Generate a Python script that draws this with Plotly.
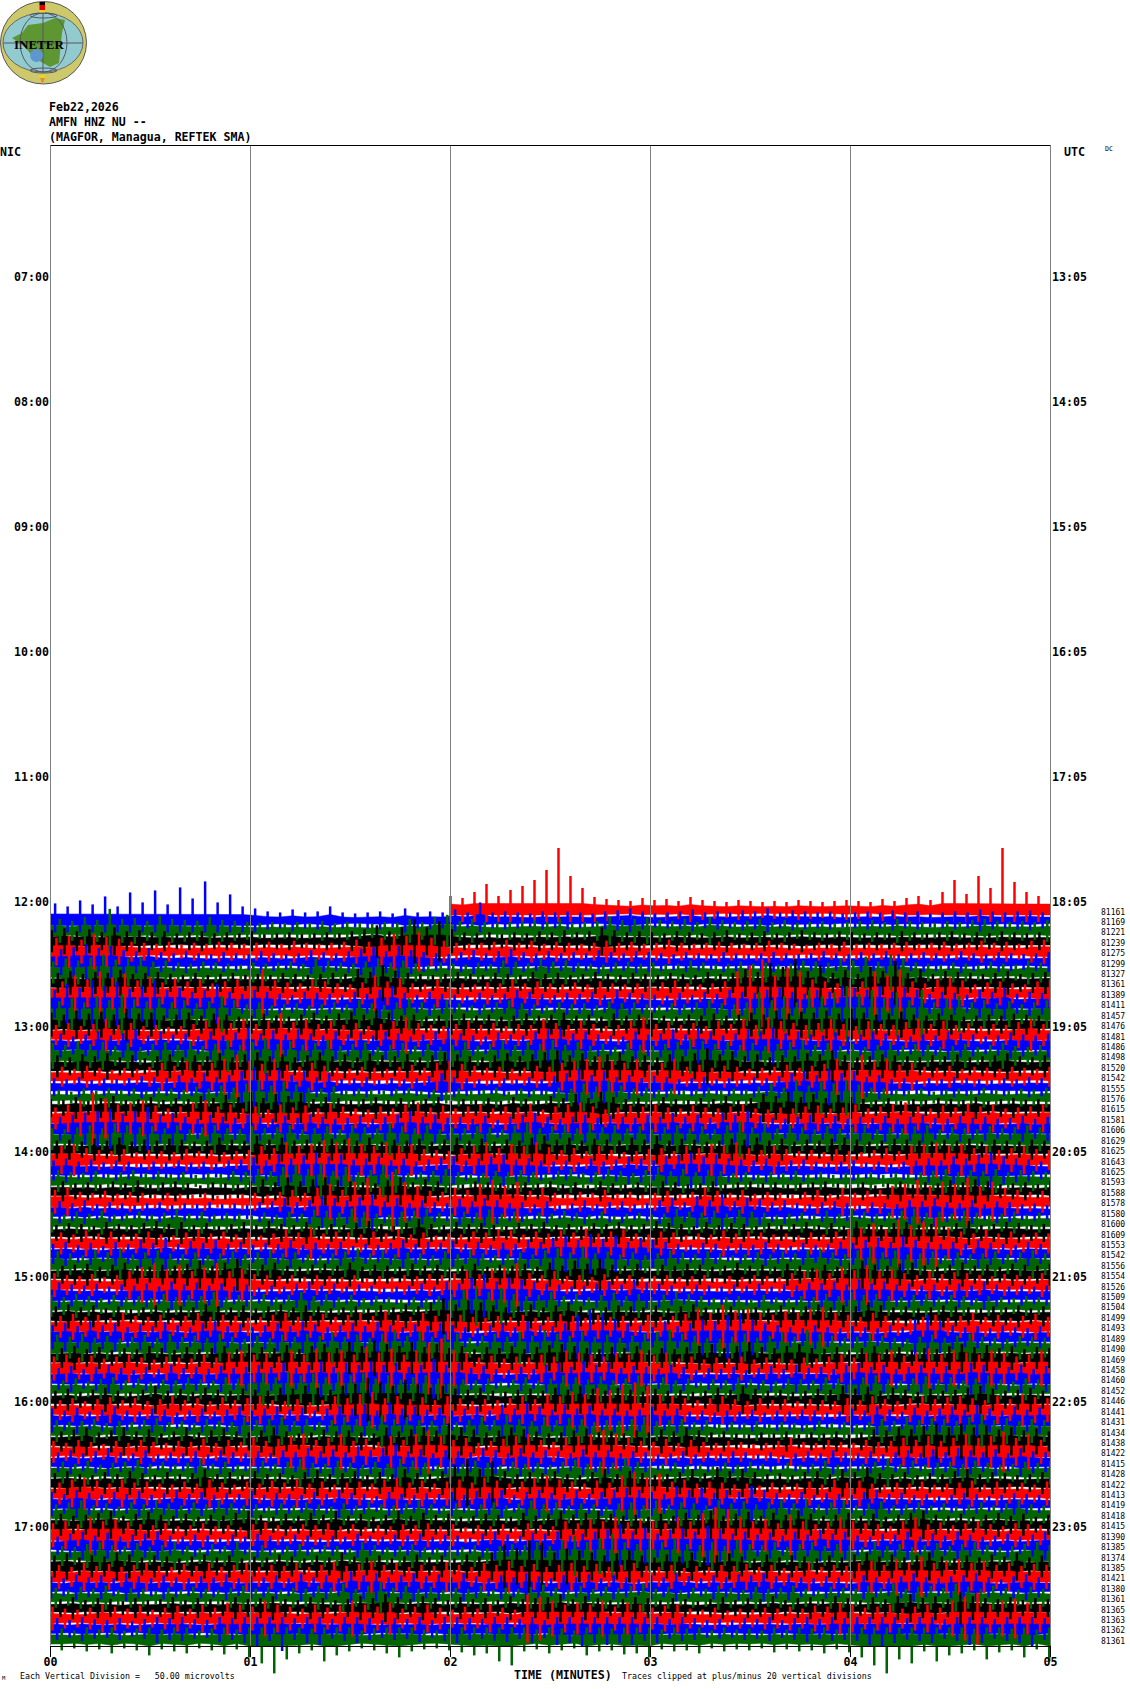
import plotly.graph_objects as go

# half-height of each trace's swing (about 1 unit = 1 px on the record)
r00=[14,12,18,26,14,20,24,30,40,62,34,22,13,11,10,9,12,10,11,9,13,10,9,8,10,9,8,9,8,10,9,8,9,10,9,8,11,9,12,14,10,18,30,16,34,22,62,28,18,14]
r01=[17,14,20,16,24,14,28,18,30,16,33,22,39,18,26,14,12,9,8,11,8,9,14,8,7,8,9,7,12,8,9,8,11,8,18,8,9,8,7,9,8,9,8,7,9,10,12,9,7,8,9,11,8,9,8,10,9,12,8,10,9,8,9,7,8,9,8,10,8,9,7,8,9,8,11,9,8,9,10,8]
r02=[12,10,14,11,22,12,13,10,15,12,11,10,14,11,10,9,8,9,8,9,8,10,8,9,8,7,9,8,12,9,14,16,10,12,9,8,9,10,11,9,12,8,9,10,14,11,12,13,11,10,12,9,14,11,9,10,12,9,11,8,9,10,8,9,10,11,9,12,10,9,8,10,9,11,12,10,9,10,9,11]
r03=[11,13,10,12,9,14,10,11,9,10,8,9,10,8,9,8,10,7,8,9,7,8,9,8,10,12,16,10,14,22,14,20,12,9,8,9,7,9,8,10,9,11,9,10,14,11,9,10,9,8,10,9,8,9,11,8,9,10,8,9,11,9,8,10,9,8,9,8,10,9,8,9,10,8,9,8,10,9,8,9]
r04=[14,16,12,18,15,13,10,9,8,10,7,9,8,10,9,8,9,10,8,11,9,8,9,10,12,10,14,18,16,20,14,11,9,8,9,10,12,9,11,8,10,9,8,9,11,9,10,8,9,12,9,8,9,10,9,8,9,11,9,8,7,9,8,10,8,9,8,9,10,8,9,10,8,9,11,9,10,8,11,12]
r05=[13,15,18,14,16,12,11,14,10,9,11,9,8,10,9,8,11,9,8,9,12,10,9,11,13,15,11,16,12,10,9,8,10,12,9,11,13,10,9,11,9,10,9,12,10,9,11,10,9,8,10,9,8,10,9,8,9,10,9,8,9,11,9,8,10,9,11,8,9,10,9,8,11,9,8,10,9,8,9,10]
r06=[11,14,12,15,18,13,14,16,11,12,10,9,11,10,9,8,10,9,10,11,9,14,12,10,9,11,14,10,12,9,8,10,9,8,10,9,12,11,9,14,11,12,10,9,8,10,11,9,10,8,9,12,10,8,9,11,9,10,8,9,12,11,10,14,12,16,11,18,14,10,9,8,10,9,8,11,9,8,12,10]
r07=[10,12,9,11,10,13,9,10,11,9,8,10,8,9,10,8,9,8,10,9,8,9,10,9,14,11,18,12,10,9,8,9,11,9,8,10,9,8,11,9,10,8,9,11,9,8,10,9,8,10,9,8,11,9,10,14,11,20,16,24,12,18,10,13,9,16,12,22,10,14,9,12,11,10,9,10,12,9,10,11]
r08=[12,18,14,22,16,20,13,16,11,15,12,14,10,12,14,18,24,13,11,10,14,12,10,9,11,18,12,15,10,9,14,11,10,9,11,10,14,10,12,10,9,11,9,12,10,9,10,14,11,13,10,9,10,12,22,28,34,18,26,22,14,12,10,14,12,22,18,24,12,10,14,16,13,9,11,12,10,9,12,14]
r09=[14,20,16,24,18,22,15,18,24,14,16,12,14,20,12,10,14,12,10,9,12,11,10,9,12,10,14,18,11,9,12,10,9,8,11,9,10,14,12,10,9,11,10,12,9,14,11,10,9,8,11,9,12,10,14,12,11,14,16,12,10,14,12,18,16,14,18,12,16,14,10,12,11,9,14,12,16,10,12,11]
r10=[13,16,12,18,14,20,15,13,16,12,14,11,13,18,14,10,12,9,10,11,9,10,12,10,14,11,9,12,16,12,10,14,11,9,10,12,14,11,10,9,12,10,11,9,13,11,12,10,9,11,10,12,14,11,10,12,22,14,18,12,24,18,22,28,20,24,16,22,14,24,12,16,18,12,14,11,13,10,12,14]
r11=[12,10,14,11,13,10,16,11,12,9,10,12,9,11,10,8,9,11,9,8,10,12,9,11,13,10,16,12,9,10,8,9,10,11,9,10,8,9,11,9,10,12,9,10,8,11,9,10,12,9,8,10,9,11,9,10,12,10,14,11,13,12,14,11,16,12,10,11,13,10,9,11,10,8,9,10,9,11,10,9]
r12=[10,12,9,11,16,10,12,9,10,8,9,11,14,18,12,16,11,14,22,13,16,11,14,10,12,9,11,14,18,12,10,9,11,14,10,12,9,11,10,16,12,10,14,11,9,10,14,18,11,13,10,12,9,14,11,16,10,18,14,12,10,12,16,11,9,14,11,10,13,16,11,14,10,12,9,11,10,13,16,11]
r13=[12,9,11,14,10,12,16,10,14,11,12,9,14,10,13,18,12,15,11,16,12,10,14,11,13,10,14,12,9,11,14,18,12,10,9,13,11,10,14,16,18,12,14,11,10,9,14,11,12,16,11,18,14,10,12,16,14,18,12,14,11,10,13,9,11,14,12,10,9,11,10,14,12,11,9,10,13,11,10,12]
r14=[13,11,15,12,14,10,13,9,12,14,11,15,10,12,16,11,14,18,12,15,11,13,16,10,12,14,9,11,13,10,12,9,11,14,10,12,15,11,14,12,16,11,14,10,12,9,13,11,10,12,14,18,15,12,14,11,13,10,12,14,16,11,13,10,12,9,11,14,10,12,11,9,10,12,9,11,13,10,9,11]
r15=[11,9,12,10,13,9,11,8,10,12,9,11,10,13,9,12,14,10,12,9,11,14,10,12,9,13,11,10,12,9,11,14,12,10,9,11,13,10,12,14,16,11,13,10,12,14,10,11,9,12,10,13,18,12,15,10,12,9,11,10,13,12,16,11,9,10,12,11,10,9,11,10,12,9,10,11,13,10,9,11]
r16=[10,8,11,9,7,9,8,10,14,11,16,12,14,18,22,16,13,18,12,10,14,11,9,8,10,9,8,10,12,9,14,16,13,11,9,10,8,9,11,10,14,16,18,20,16,14,18,12,14,18,10,12,9,11,10,8,9,10,12,9,11,13,18,14,22,16,18,12,14,10,9,11,8,10,9,8,10,9,8,10]
r17=[9,8,10,7,9,8,9,11,10,9,12,9,14,10,12,16,20,14,18,12,16,10,14,8,9,10,7,9,8,9,11,14,10,9,8,7,9,8,10,8,11,14,18,12,16,10,12,9,11,10,8,9,10,8,9,8,10,9,11,14,16,12,18,14,16,10,12,8,9,7,9,8,10,9,8,7,9,8,10,9]
r18=[8,6,9,7,10,8,9,7,10,9,8,11,9,12,10,14,18,12,16,13,10,9,11,7,9,8,7,9,10,7,8,6,9,7,8,10,6,9,8,7,10,9,14,11,18,12,9,10,8,9,7,8,10,7,9,8,11,14,10,18,12,16,14,18,13,10,9,8,7,9,6,8,9,7,10,8,7,9,8,10]
r19=[9,8,11,7,10,12,8,9,11,8,10,9,12,10,13,11,16,10,14,12,15,9,11,10,8,9,11,8,10,8,9,11,7,9,8,10,7,11,9,8,12,10,14,10,16,11,9,10,8,11,9,8,10,9,12,8,10,14,12,16,11,14,10,13,11,9,8,10,7,9,8,10,9,8,11,7,9,10,8,9]
r20=[11,14,18,26,20,14,16,18,13,10,12,16,18,12,14,10,12,9,14,11,13,10,15,12,10,9,12,10,14,16,11,13,10,12,14,10,12,11,15,9,12,14,16,12,9,11,13,12,14,11,10,13,11,10,12,14,10,9,11,10,12,13,10,11,14,10,12,14,16,12,10,13,11,15,12,14,10,11,12,14]
r21=[12,14,16,18,20,15,18,22,14,16,12,10,14,12,11,14,12,10,13,11,14,12,10,11,13,10,12,14,18,12,14,11,12,10,13,9,12,14,16,12,10,12,14,11,13,12,11,14,12,16,12,14,11,16,14,18,13,11,10,12,14,11,13,10,12,11,13,10,12,14,11,10,13,11,12,10,11,13,10,12]
r22=[11,10,12,14,11,16,14,12,13,11,14,10,12,14,11,10,13,11,12,14,10,11,13,10,14,12,11,16,13,11,14,10,12,11,13,12,10,14,16,11,13,14,11,16,12,14,11,13,10,12,14,11,13,10,14,18,12,16,11,14,12,10,13,11,12,14,10,12,11,13,14,10,12,11,10,13,11,12,14,12]
r23=[9,10,8,11,9,12,8,10,9,11,10,8,9,12,10,9,14,10,12,9,10,8,11,10,9,12,8,10,9,11,8,10,12,9,11,8,10,9,12,14,10,12,9,11,10,9,12,10,14,9,11,10,8,9,11,10,12,9,11,8,10,9,11,12,10,8,9,11,10,9,8,10,9,11,8,10,9,8,10,9]
r24=[14,16,12,10,9,11,8,10,9,8,11,9,10,8,9,10,14,12,18,14,16,20,18,22,16,14,18,14,16,11,10,9,12,14,18,12,16,14,18,13,10,12,9,14,10,8,9,11,12,9,14,12,16,14,18,12,10,14,11,9,10,8,11,9,8,10,12,9,14,16,18,14,16,12,14,10,12,14,11,10]
r25=[10,12,9,11,8,10,9,7,9,8,10,8,9,7,10,11,13,10,16,12,15,18,14,16,11,12,14,10,12,9,11,13,14,10,12,14,16,11,12,10,9,10,8,12,9,11,14,12,10,14,16,18,14,16,12,11,10,12,9,10,11,9,8,9,10,8,9,7,9,10,12,10,14,12,16,18,14,12,11,9]
r26=[11,9,8,10,7,9,11,8,10,7,9,6,8,7,10,9,12,10,14,16,12,18,10,14,9,11,16,12,8,9,10,12,9,7,8,10,9,11,9,7,10,12,8,9,12,10,8,11,14,10,12,9,11,10,8,9,7,9,8,10,7,9,6,8,7,9,6,8,7,9,10,12,9,11,10,12,9,11,10,9]
r27=[10,8,9,7,10,8,11,7,9,10,8,6,9,8,7,10,12,9,14,10,12,14,11,10,9,8,11,14,9,12,10,8,7,10,9,8,7,9,8,10,7,9,6,10,8,7,9,8,10,9,7,8,10,7,9,10,8,9,7,8,9,10,8,7,9,6,8,10,7,9,8,11,9,12,10,7,8,9,7,10]
r28=[12,14,10,9,11,8,10,9,7,9,8,7,9,6,7,8,9,7,10,12,9,14,18,12,20,24,14,30,20,16,11,10,14,12,18,22,16,20,11,14,9,8,10,9,12,8,10,7,9,11,8,10,14,11,9,12,8,10,9,7,10,12,8,14,9,11,12,16,18,22,16,20,18,24,16,20,14,12,10,11]
r29=[11,9,12,8,10,9,7,9,10,7,9,8,10,8,9,7,10,11,14,10,12,16,14,12,15,18,11,14,9,12,10,9,13,11,14,12,9,10,8,11,7,9,12,8,10,11,8,9,12,14,10,16,12,18,11,14,13,10,12,9,8,10,11,9,7,10,9,8,12,11,14,10,9,12,8,11,10,8,9,7]
r30=[10,8,11,9,12,8,9,11,8,10,14,9,11,8,10,9,7,10,8,11,9,13,12,10,14,11,9,8,11,12,14,10,9,11,10,13,9,11,8,10,9,12,10,8,11,7,9,10,8,9,14,11,10,12,9,13,11,10,8,9,10,8,12,9,14,11,9,10,12,14,10,11,9,12,10,8,9,11,8,10]
r31=[8,10,9,7,11,9,8,10,12,9,11,8,10,7,9,11,8,12,9,8,11,7,9,8,10,12,9,7,10,14,9,8,11,9,10,8,7,10,9,11,8,9,7,10,9,11,8,9,12,10,9,7,11,8,10,9,7,10,8,9,11,8,10,7,12,9,8,10,11,8,9,7,10,12,8,9,11,10,8,9]
r32=[11,9,13,10,12,9,10,12,9,8,11,14,10,12,9,11,8,10,14,11,16,10,12,11,9,12,10,14,9,11,8,10,9,12,11,14,13,9,12,10,13,11,15,10,12,14,10,9,12,11,8,10,9,13,10,12,11,9,10,8,11,9,12,14,16,20,14,24,18,22,26,16,12,10,14,10,12,9,11,10]
r33=[10,12,9,11,8,12,10,14,11,16,10,13,11,14,10,12,9,11,10,14,9,11,10,12,8,10,9,11,14,10,12,11,13,10,12,9,11,10,14,12,16,18,14,20,15,18,12,16,14,12,10,9,11,10,8,10,9,12,10,8,11,9,10,12,11,14,16,12,18,14,11,10,12,10,14,11,10,9,12,10]
r34=[13,11,9,14,12,16,10,12,14,11,10,12,9,11,13,10,12,14,11,12,10,9,11,13,16,11,14,10,12,11,9,13,10,14,11,9,10,12,10,14,16,12,18,11,13,10,12,9,11,14,12,10,13,11,9,10,12,10,13,11,14,16,12,10,14,18,12,14,10,11,13,9,12,10,11,13,10,12,14,11]
r35=[9,10,11,8,10,12,9,8,10,9,11,14,9,12,16,11,10,12,9,8,10,11,9,12,8,10,9,8,11,9,10,7,9,11,8,10,9,11,8,12,9,14,11,16,10,9,11,8,10,9,11,10,8,9,12,9,10,8,11,9,7,10,8,12,14,10,9,11,12,9,8,10,12,9,10,8,11,10,9,11]
r36=[12,10,9,11,8,10,14,18,22,16,20,14,18,22,14,16,11,10,9,10,8,10,9,8,10,7,9,8,10,9,11,10,12,14,11,16,18,22,12,10,14,9,10,8,11,9,10,8,9,10,8,9,10,7,9,8,10,9,8,12,14,16,12,18,15,20,14,16,12,10,14,11,13,12,10,9,11,10,9,12]
r37=[13,11,10,12,9,11,10,12,9,14,11,13,10,12,9,11,8,10,9,12,14,10,12,9,11,10,8,9,10,12,9,14,12,18,22,14,18,16,14,12,11,9,10,12,14,11,16,13,12,10,9,11,10,9,11,10,12,9,11,10,13,12,14,11,16,12,14,11,12,10,11,9,12,10,14,11,9,10,9,10]
r38=[11,9,12,10,8,11,9,10,8,12,9,11,10,14,9,11,10,12,9,11,14,10,12,9,11,8,10,9,7,9,8,10,12,16,20,14,18,12,10,11,14,10,12,9,11,13,10,12,9,11,14,12,10,8,9,10,7,11,9,8,10,9,12,10,14,11,12,10,9,11,12,9,11,10,8,10,9,8,10,9]
r39=[10,12,9,11,8,10,7,9,11,8,10,9,12,10,9,11,8,10,12,9,11,10,8,9,10,8,11,9,12,10,14,18,12,16,14,11,9,10,12,9,11,14,10,8,9,11,10,9,11,8,10,12,9,8,10,7,9,8,11,9,10,12,9,11,10,14,11,9,10,8,9,11,10,9,8,10,9,11,8,10]
r40=[11,13,10,12,9,14,11,10,12,9,11,14,10,12,11,9,10,12,14,10,11,13,10,12,14,11,16,12,10,14,11,13,12,10,9,11,10,12,9,10,13,11,9,12,10,11,9,12,10,11,13,18,14,22,16,18,14,12,16,14,18,20,14,12,10,14,11,9,8,10,12,9,11,14,10,12,9,11,13,10]
r41=[12,14,11,16,12,14,10,13,11,15,12,10,14,16,11,13,10,12,14,11,16,13,10,12,14,11,15,12,10,13,11,14,12,10,9,12,14,10,16,12,11,14,22,28,24,18,14,12,10,16,11,14,18,16,22,24,18,14,12,10,9,12,10,9,11,10,9,12,10,18,22,16,12,10,11,9,12,10,9,11]
r42=[13,11,14,10,12,9,11,13,10,14,11,12,10,14,11,9,12,10,13,11,14,12,16,11,13,10,14,18,12,16,11,13,14,10,12,14,11,16,12,18,14,12,16,11,13,10,12,14,16,18,14,12,10,9,11,14,10,12,16,11,18,14,12,10,11,14,12,10,9,11,13,10,12,14,11,10,9,12,11,10]
r43=[10,12,9,11,8,10,9,12,10,8,11,9,10,12,9,14,11,10,13,9,12,14,10,16,12,18,14,12,16,11,14,10,12,9,11,10,12,9,11,13,14,12,10,9,11,10,12,8,10,9,11,12,14,10,12,16,11,10,12,14,10,9,11,8,10,12,9,11,8,10,9,12,14,11,13,10,12,9,11,10]
r44=[12,14,11,13,10,12,14,11,9,12,11,10,14,11,16,18,14,16,12,18,14,20,16,18,14,22,16,20,14,18,26,30,18,16,11,13,10,12,11,14,12,18,16,14,12,16,14,18,13,16,10,12,9,11,10,12,9,11,10,9,11,10,12,14,11,16,14,18,13,16,20,14,18,16,14,18,16,12,14,18]
r45=[11,13,10,12,14,11,9,12,10,14,11,12,10,13,11,12,14,12,16,11,14,18,12,16,14,18,14,16,12,14,20,14,16,11,13,10,9,12,10,14,16,12,18,14,16,11,13,12,10,14,12,9,11,10,12,9,11,13,10,14,11,12,10,14,16,12,14,10,12,14,11,13,10,16,14,11,12,14,10,13]
r46=[10,9,11,8,10,12,9,11,8,10,9,12,10,9,12,11,14,16,12,18,14,16,12,18,14,16,11,14,10,12,14,11,13,10,9,11,8,10,12,9,11,14,12,10,13,9,11,14,10,12,9,11,8,10,9,12,10,9,8,11,10,9,12,11,10,12,14,10,9,11,13,10,12,9,11,14,10,8,11,10]
r47=[9,11,8,10,12,9,8,10,14,9,11,8,12,10,9,11,10,9,12,11,14,12,10,14,16,22,18,14,20,16,12,14,11,10,12,9,8,10,11,9,12,10,14,11,9,12,10,8,11,9,10,8,9,12,10,14,11,9,10,8,9,11,10,14,11,13,9,12,10,8,11,9,10,12,14,11,9,10,12,9]
r48=[10,12,9,11,13,10,12,9,11,14,10,12,9,13,10,12,14,10,9,11,8,10,14,12,16,18,12,14,11,13,10,14,12,9,11,10,12,14,11,16,14,18,16,22,20,26,28,24,16,14,12,10,12,14,11,9,12,10,11,9,11,10,9,12,10,14,11,9,12,14,11,13,14,12,10,14,11,16,13,12]
r49=[12,10,13,9,11,14,10,9,12,11,8,10,12,9,11,14,10,12,14,11,13,10,12,14,12,16,10,18,12,14,11,13,10,12,14,10,16,12,18,14,11,16,12,15,11,12,10,11,14,10,12,9,10,8,10,9,11,8,10,9,11,10,8,9,12,10,14,11,9,13,10,12,14,11,16,12,10,14,11,13]
r50=[11,9,10,12,8,10,9,11,13,9,10,8,12,10,9,14,11,12,14,10,12,9,11,14,12,10,16,12,14,11,10,13,9,11,14,11,16,12,10,14,11,13,12,9,11,10,12,14,10,11,12,9,11,7,9,8,10,7,9,8,7,10,8,9,7,9,12,10,14,11,13,12,10,14,16,11,13,10,12,11]
r51=[10,12,14,9,11,14,10,12,8,10,14,9,11,13,10,9,11,14,10,8,9,12,10,11,9,8,14,10,12,14,11,18,14,12,9,11,14,12,10,8,9,11,13,9,10,8,11,9,12,10,14,11,9,10,8,7,9,8,10,7,9,8,10,7,9,12,11,14,12,16,18,14,18,14,16,12,14,11,13,10]
r52=[11,9,12,10,8,11,9,12,10,9,11,10,13,9,12,10,14,11,13,16,18,12,14,18,11,13,10,16,12,18,22,16,12,14,9,11,13,16,18,12,10,14,16,18,22,18,14,11,10,13,9,12,10,9,11,10,8,9,11,14,10,9,12,10,9,12,10,11,14,12,16,11,14,18,14,16,20,14,18,12]
r53=[10,12,9,11,14,10,9,12,8,10,9,11,8,12,10,9,11,9,12,10,14,11,13,10,16,12,14,18,11,13,9,12,11,10,14,12,9,14,10,12,11,9,13,10,12,9,11,10,8,9,11,8,10,9,11,10,8,10,7,9,11,9,12,10,9,11,8,10,12,9,13,10,14,12,10,13,9,14,11,10]
r54=[11,9,12,8,10,11,13,9,11,8,10,14,9,11,8,10,12,9,11,14,10,9,12,10,8,11,9,14,12,10,8,11,9,12,10,8,11,9,10,8,11,13,9,11,10,14,11,12,9,10,8,9,7,10,8,11,9,7,10,8,9,12,8,10,9,11,14,9,12,8,10,11,9,12,10,8,9,11,10,12]
r55=[10,12,9,8,11,9,12,10,8,11,9,10,14,9,11,8,12,9,10,8,11,13,9,10,12,8,11,9,14,10,9,12,18,24,14,22,12,9,11,10,12,9,8,11,14,9,12,10,8,9,11,14,10,16,12,14,11,9,10,8,11,12,9,14,11,16,10,9,11,8,10,9,12,14,9,11,10,8,9,11]
r56=[11,14,16,13,10,14,11,12,10,9,12,10,14,11,9,12,10,13,11,14,10,12,9,11,12,10,14,16,11,13,10,12,14,11,16,13,10,12,16,18,14,12,10,13,11,18,22,16,20,12,14,10,12,11,9,10,8,11,9,10,12,9,14,11,13,10,9,11,10,12,9,10,11,13,9,12,10,11,9,12]
r57=[12,10,14,11,9,12,10,13,9,11,14,10,12,9,11,10,13,9,11,10,9,12,10,14,11,10,8,12,10,9,11,10,12,9,13,11,14,9,12,14,11,10,14,10,12,14,16,14,12,10,18,14,16,11,14,12,18,14,11,10,12,9,11,10,9,12,14,10,11,9,10,8,9,11,10,8,9,11,10,9]
r58=[10,12,14,9,11,8,12,10,14,11,9,12,10,14,11,9,10,8,11,9,12,10,8,11,9,13,10,9,11,14,10,8,11,9,10,12,9,11,14,10,12,9,11,10,8,11,12,9,14,10,12,11,9,14,11,13,10,12,14,11,16,10,12,14,9,11,13,9,10,12,9,11,8,10,12,9,11,14,10,9]
r59=[11,9,10,12,14,9,11,13,10,9,11,8,10,9,12,14,10,8,11,9,12,10,14,9,11,8,10,14,9,12,10,11,8,9,11,10,8,12,9,11,14,10,12,14,11,9,10,8,11,9,12,10,14,9,11,13,9,12,10,14,11,9,10,12,9,11,8,10,12,14,10,9,11,8,10,12,9,11,8,10]
r60=[12,14,11,18,14,16,13,11,10,12,9,10,12,9,10,8,11,13,10,9,11,10,12,9,11,8,10,9,11,10,12,9,11,8,10,9,11,8,12,10,9,14,12,16,14,18,13,16,14,12,18,14,22,28,26,18,14,16,12,20,14,11,13,18,14,12,11,9,14,18,11,13,10,12,14,11,9,12,11,10]
r61=[9,12,14,10,13,9,11,12,14,10,9,11,10,8,11,9,12,10,9,11,10,8,10,9,12,10,9,11,10,12,9,11,10,8,12,14,11,10,13,12,14,10,12,14,16,22,14,18,12,16,18,14,20,16,12,14,11,13,10,14,11,16,12,14,10,9,12,11,14,9,12,10,14,11,9,10,12,9,11,14]
r62=[10,9,12,14,11,10,13,9,11,14,10,8,12,10,14,9,11,8,10,12,9,11,10,8,14,11,9,10,12,9,8,10,9,11,8,10,12,11,14,10,16,20,14,18,22,14,12,16,14,18,12,11,14,10,16,12,11,14,9,12,14,10,12,11,9,14,10,12,9,11,13,10,12,14,11,9,10,12,14,11]
r63=[11,13,9,11,10,14,12,9,11,10,8,10,12,9,11,8,10,9,12,10,8,11,9,14,10,9,11,8,10,12,9,11,8,12,10,14,22,18,26,24,14,18,16,14,11,13,16,11,9,12,10,14,9,11,13,10,8,12,9,11,10,8,11,9,12,14,10,12,9,11,14,10,8,11,9,12,10,14,9,11]
r64=[12,10,14,11,13,10,12,14,11,10,13,11,14,10,12,14,10,12,11,14,10,12,15,11,13,16,12,14,10,12,11,15,12,10,14,12,16,11,13,10,12,14,11,13,10,12,14,11,10,12,9,11,10,12,11,13,10,12,9,11,14,10,12,11,14,16,12,18,14,20,14,16,18,14,16,12,14,11,13,12]
r65=[11,9,13,10,12,9,14,11,9,12,10,9,11,10,13,9,11,10,12,9,14,10,12,9,16,12,14,10,12,14,11,13,10,14,11,9,12,10,14,11,9,12,10,13,9,12,10,8,12,10,14,11,9,12,10,13,12,14,11,13,10,9,11,10,8,12,10,9,11,14,10,9,11,12,14,10,8,11,13,10]
r66=[10,8,11,9,12,8,10,9,7,10,8,11,9,8,10,12,9,11,8,10,9,12,10,14,9,12,16,10,12,9,11,8,10,9,12,8,10,9,11,13,10,8,12,9,11,10,12,14,9,11,8,10,9,12,10,8,11,9,10,12,9,8,11,10,9,12,10,14,9,11,12,10,14,11,9,12,10,8,11,9]
r67=[9,11,8,10,9,7,10,8,9,11,8,10,9,8,11,9,10,12,9,8,11,10,8,9,12,10,14,11,9,12,10,8,11,9,10,8,12,9,10,11,14,9,12,10,8,9,11,10,8,10,9,7,9,11,8,10,9,12,8,10,11,9,12,10,8,11,9,12,14,10,12,9,16,12,10,9,11,8,10,9]
r68=[12,10,9,11,14,12,10,13,9,11,13,10,14,11,16,14,12,18,14,12,10,14,11,13,18,14,12,16,10,12,14,11,9,12,10,14,11,9,24,22,18,14,16,14,18,12,16,14,11,13,14,10,9,11,8,10,9,11,10,12,10,13,12,16,14,11,12,14,10,12,14,11,18,22,26,14,18,20,16,14]
r69=[11,9,12,10,9,11,8,10,14,11,12,10,9,13,11,14,18,12,22,11,14,16,10,12,14,11,9,11,10,13,9,12,14,11,10,12,13,10,14,9,16,14,18,14,16,14,16,12,14,10,12,11,9,10,9,11,10,12,9,11,13,10,12,11,12,16,18,14,11,12,14,10,12,16,14,10,12,14,18,11]
r70=[11,9,12,10,14,9,11,16,10,12,14,9,11,15,10,18,24,34,20,14,11,22,16,12,9,11,14,18,12,10,9,11,13,16,14,22,26,12,10,14,11,9,16,12,11,15,14,18,10,12,11,14,9,12,10,11,9,13,10,12,11,14,10,13,18,26,34,20,24,12,22,16,14,11,20,13,11,18,10,22]
rows=[r00,r01,r02,r03,r04,r05,r06,r07,r08,r09,r10,r11,r12,r13,r14,r15,r16,r17,r18,r19,r20,r21,r22,r23,r24,r25,r26,r27,r28,r29,r30,r31,r32,r33,r34,r35,r36,r37,r38,r39,r40,r41,r42,r43,r44,r45,r46,r47,r48,r49,r50,r51,r52,r53,r54,r55,r56,r57,r58,r59,r60,r61,r62,r63,r64,r65,r66,r67,r68,r69,r70]
row_counts=[81161,81169,81221,81239,81275,81299,81327,81361,81389,81411,81457,81476,81481,81486,81498,81520,81542,81555,81576,81615,81581,81606,81629,81625,81643,81625,81593,81588,81578,81580,81600,81609,81553,81542,81556,81554,81526,81509,81504,81499,81493,81489,81490,81469,81458,81460,81452,81446,81441,81431,81434,81438,81422,81415,81428,81422,81413,81419,81418,81415,81390,81385,81374,81385,81421,81380,81361,81365,81363,81362,81361]
nic_hours=list(range(7,18))
nic_labels=[f"{h:02d}:00" for h in nic_hours]
utc_labels=[f"{h+6:02d}:05" for h in nic_hours]
minute_ticks=[0,1,2,3,4,5]
minute_labels=["00","01","02","03","04","05"]
colors=["#FF0000","#0000FF","#006400","#000000"]

W,H=1130,1689
L,T,PW,PH=50,145,1001,1544
def px(x):return (x-L)/PW
def py(y):return (T+PH-y)/PH
Y0,DY=910,10.42
def r_of(y):return (y-Y0)/DY
fig=go.Figure()
last=len(rows)-1
BODY=0.42   # share of each swing that reads as the solid body of the band
BODY_MAX=6.5
def geometry(i,v):
    start=2 if i==0 else 0
    step=(5-start)/len(v)
    phase=((i*0.37)%1)*step
    xk=[start+k*step+phase for k in range(len(v))]
    up=[min(a,12) if i>=last-1 else a for a in v]
    dn=[min(a,12) if i<=1 else a for a in v]
    return start,xk,up,dn
for i,v in enumerate(rows):
    start,xk,up,dn=geometry(i,v)
    ex=[start]+xk+[5]
    top_edge=[up[0]]+up+[up[-1]]
    bot_edge=[dn[0]]+dn+[dn[-1]]
    xs=ex+ex[::-1]
    ys=[i-min(a*BODY,BODY_MAX)/DY for a in top_edge]+[i+min(a*BODY,BODY_MAX)/DY for a in bot_edge[::-1]]
    fig.add_trace(go.Scatter(x=xs,y=ys,mode="lines",fill="toself",fillcolor=colors[i%4],line=dict(color=colors[i%4],width=0.5),hoverinfo="skip",showlegend=False))
for i,v in enumerate(rows):
    start,xk,up,dn=geometry(i,v)
    xs,ys=[],[]
    for x,a,b in zip(xk,up,dn):
        xs+=[x,x,None]
        ys+=[i-a/DY,i+b/DY,None]
    fig.add_trace(go.Scatter(x=xs,y=ys,mode="lines",line=dict(color=colors[i%4],width=2.5),hoverinfo="skip",showlegend=False))
fig.add_trace(go.Scatter(x=[None],y=[None],yaxis="y2",hoverinfo="skip",showlegend=False))
mono="DejaVu Sans Mono"
ticks=[-0.77+(h-12)*12 for h in nic_hours]
yr=[r_of(T+PH),r_of(T)]
tickfont=dict(family=mono,size=11.6,color="black",weight="bold")
fig.update_layout(width=W,height=H,margin=dict(l=L,t=T,r=W-L-PW,b=0,pad=0),plot_bgcolor="white",paper_bgcolor="white",showlegend=False,
 xaxis=dict(range=[-0.0025,5.0025],anchor="free",position=(T+PH-1645.5)/PH,tickvals=minute_ticks,ticktext=minute_labels,ticks="outside",ticklen=10,tickcolor="black",tickwidth=1,showline=True,linecolor="black",linewidth=1,showgrid=False,zeroline=False,tickfont=tickfont,tickangle=0,ticklabelstandoff=-4),
 yaxis=dict(range=yr,tickvals=ticks,ticktext=nic_labels,ticks="",showgrid=False,zeroline=False,showline=False,tickfont=tickfont),
 yaxis2=dict(range=yr,overlaying="y",side="right",tickvals=ticks,ticktext=utc_labels,ticks="",showgrid=False,zeroline=False,showline=False,tickfont=tickfont))
top,bot=r_of(145.5),r_of(1645.5)
shapes=[]
for m in minute_ticks:
    shapes.append(dict(type="line",xref="x",yref="y",x0=m,x1=m,y0=top,y1=bot,line=dict(color="#808080",width=1),layer="above"))
shapes.append(dict(type="line",xref="x",yref="y",x0=0,x1=5,y0=top,y1=top,line=dict(color="black",width=1),layer="above"))
def sh(kind,x0,y0,x1,y1,fill,line="#444",w=1):
    return dict(type=kind,xref="paper",yref="paper",x0=px(x0),x1=px(x1),y0=py(y0),y1=py(y1),fillcolor=fill,line=dict(color=line,width=w),layer="above")
def poly(pts,fill,line="rgba(0,0,0,0)",w=0):
    d="M"+"L".join(f"{px(a):.5f},{py(b):.5f}" for a,b in pts)+"Z"
    return dict(type="path",xref="paper",yref="paper",path=d,fillcolor=fill,line=dict(color=line,width=w),layer="above")
shapes+=[sh("circle",0.5,1.5,86.5,84,"#CDC96B","#555",1),
 sh("circle",3,13,83,72,"#92CBCF","#666",1),
 poly([(12,38),(22,33),(28,25),(43,23),(55,18),(65,20),(62,33),(59,63),(50,67),(43,63),(33,57),(25,47)],"#5E9732"),
 sh("circle",20,13,67,72,"rgba(0,0,0,0)","#556",1),
 sh("circle",30,13,57,18,"rgba(0,0,0,0)","#556",1),
 sh("circle",30,68,57,73,"rgba(0,0,0,0)","#556",1),
 sh("line",3,43,83,43,"rgba(0,0,0,0)","#556",1),
 sh("line",43,13,43,72,"rgba(0,0,0,0)","#556",1),
 sh("circle",30,49,43,62,"#5F96D2","#5F96D2",0),
 sh("rect",39.5,2,45,5,"#000000","#000",0),
 sh("rect",39.5,5,45,10,"#E00000","#E00000",0),
 sh("rect",39.5,10,45,12.5,"#F0D020","#333",0),
 sh("rect",39.5,75,45,78,"#F0D020","#333",0),
 poly([(40,78),(45,78),(42.5,84)],"#D89030")]
fig.update_layout(shapes=shapes)
def note(x,y,t,size,anchor="left",bold=False,family=mono):
    fig.add_annotation(xref="paper",yref="paper",x=px(x),y=py(y),text=t,showarrow=False,xanchor=anchor,yanchor="middle",align=anchor,
      font=dict(family=family,size=size,color="black",weight="bold" if bold else "normal"),borderpad=0,borderwidth=0)
note(39,44.5,"INETER",13,"center",True,"Liberation Serif")
note(48.5,107.5,"Feb22,2026",11.6,bold=True)
note(48.5,122.5,"AMFN HNZ NU --",11.6,bold=True)
note(48.5,137.5,"(MAGFOR, Managua, REFTEK SMA)",11.6,bold=True)
note(0,152,"NIC",11.6,bold=True)
note(1084.5,152,"UTC",11.6,"right",True)
note(1105,148.5,"DC",6.5)
note(2,1678,"M",5.5)
note(19.5,1675.5,"Each Vertical Division =   50.00 microvolts",8.3)
note(514,1674.5,"TIME (MINUTES)",11.6,bold=True)
note(621.5,1675.5,"Traces clipped at plus/minus 20 vertical divisions",8.3)
for i,c in enumerate(row_counts):
    note(1100.5,912+DY*i,str(c),8)
fig.write_html("out.html",config=dict(displayModeBar=False),post_script="document.body.style.margin='0';document.body.style.overflow='hidden';")
